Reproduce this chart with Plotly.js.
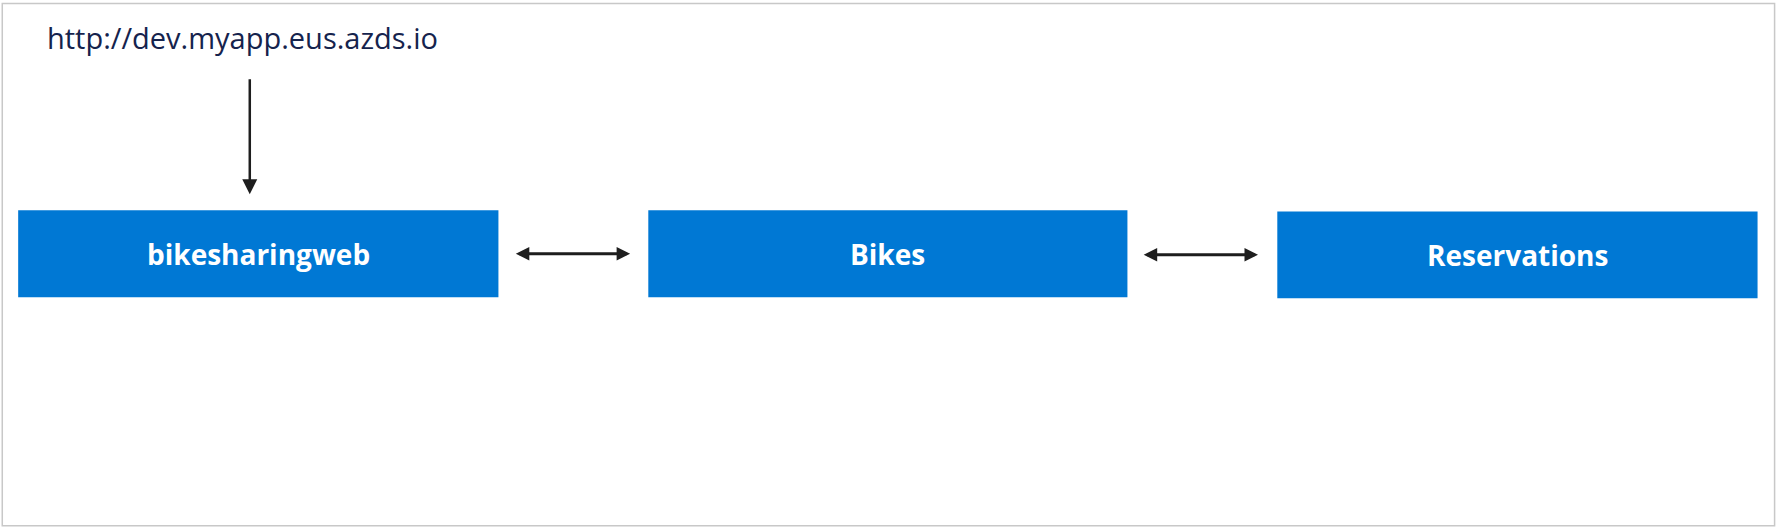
<!DOCTYPE html>
<html>
<head>
<meta charset="utf-8">
<script src="https://cdn.plot.ly/plotly-3.0.1.min.js"></script>
<style>html,body{margin:0;padding:0;background:#fff}#chart{width:1778px;height:528px}</style>
</head>
<body>
<div id="chart"></div>
<script>
// Boxes (in reference pixel units, 1566 x 462 canvas)
var boxNames = ['bikesharingweb', 'Bikes', 'Reservations'];
var boxX0 = [16, 571, 1125];
var boxX1 = [439, 993, 1548];
var boxY0 = [184, 184, 185];
var boxY1 = [260, 260, 261];

// Links between boxes (double arrows)
var linkX0 = [453, 1006];
var linkX1 = [555, 1108];
var linkY = [222, 223];

var urlText = 'http://dev.myapp.eus.azds.io';

var shapes = [{
    type: 'rect', xref: 'x', yref: 'y', x0: 2, x1: 1563, y0: 3, y1: 460,
    line: {color: '#c8c8c8', width: 1.5}, fillcolor: 'rgba(0,0,0,0)'
}];
var annotations = [];

for (let i = 0; i < boxNames.length; i++) {
    shapes.push({
        type: 'rect', xref: 'x', yref: 'y',
        x0: boxX0[i], x1: boxX1[i], y0: boxY0[i], y1: boxY1[i],
        line: {width: 0}, fillcolor: '#0078d4'
    });
    annotations.push({
        x: (boxX0[i] + boxX1[i]) / 2, y: (boxY0[i] + boxY1[i]) / 2,
        text: '<b>' + boxNames[i] + '</b>', showarrow: false,
        font: {family: 'Open Sans', size: 28, color: '#ffffff'}
    });
}

for (let i = 0; i < linkX0.length; i++) {
    annotations.push({
        x: linkX1[i], y: linkY[i], ax: linkX0[i], ay: linkY[i],
        axref: 'x', ayref: 'y', text: '', showarrow: true,
        arrowhead: 2, arrowside: 'end+start', arrowsize: 0.9, arrowwidth: 3,
        arrowcolor: '#1e1e1e'
    });
}

// URL and down arrow
annotations.push({
    x: 40, y: 33, xanchor: 'left', yanchor: 'middle', text: urlText, showarrow: false,
    font: {family: 'Open Sans', size: 29, color: '#15234d'}
});
annotations.push({
    x: 220, y: 170, ax: 220, ay: 68, axref: 'x', ayref: 'y', text: '', showarrow: true,
    arrowhead: 2, arrowsize: 1.2, arrowwidth: 2.5, arrowcolor: '#1e1e1e'
});

var layout = {
    width: 1778, height: 528,
    margin: {l: 0, r: 0, t: 0, b: 0},
    paper_bgcolor: '#ffffff', plot_bgcolor: '#ffffff',
    xaxis: {range: [0, 1566], visible: false, fixedrange: true},
    yaxis: {range: [462, 0], visible: false, fixedrange: true},
    shapes: shapes, annotations: annotations, showlegend: false
};

Plotly.newPlot('chart', [], layout, {displayModeBar: false, staticPlot: true});
</script>
</body>
</html>
